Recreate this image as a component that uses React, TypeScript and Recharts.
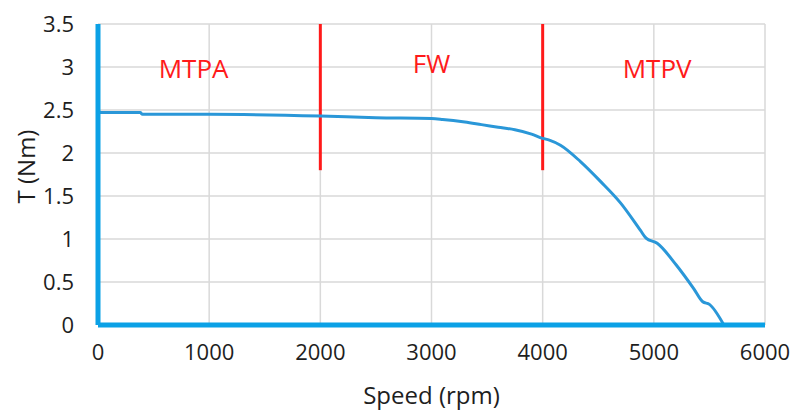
import { LineChart, Line, XAxis, YAxis, CartesianGrid, ReferenceLine, ReferenceDot } from 'recharts';

// speed (rpm) and torque (Nm) sampled along the envelope
const speed = [0, 15, 380, 400, 1000, 2000, 2500, 3000, 3100, 3300, 3450, 3600, 3750, 3900, 4000, 4060, 4160, 4340, 4520, 4700, 4880, 4930, 5030, 5200, 5360, 5440, 5500, 5630];
const torque = [2.52, 2.47, 2.47, 2.45, 2.45, 2.43, 2.41, 2.4, 2.39, 2.36, 2.33, 2.3, 2.27, 2.22, 2.17, 2.15, 2.09, 1.9, 1.67, 1.42, 1.1, 1.01, 0.95, 0.7, 0.42, 0.27, 0.24, 0];

const xTicks = [0, 1000, 2000, 3000, 4000, 5000, 6000];
const yTicks = [0, 0.5, 1, 1.5, 2, 2.5, 3, 3.5];

// region boundaries and labels
const boundaries = [2000, 4000];
const boundaryFrom = 1.8;
const regions = [
  { name: 'MTPA', x: 860, y: 2.98 },
  { name: 'FW', x: 3000, y: 3.04 },
  { name: 'MTPV', x: 5030, y: 2.98 },
];

const data = speed.map((s, i) => ({ speed: s, torque: torque[i] }));

const FONT = '"Open Sans", sans-serif';
const TEXT = '#1e1e1e';
const AXIS_BLUE = '#0ba1e6';
const CURVE_BLUE = '#2a97d8';
const RED = '#ff1a1a';

const YTitle = ({ viewBox }: any) => {
  const cx = viewBox.x - 13;
  const cy = viewBox.y + viewBox.height / 2 - 8;
  return (
    <text
      x={cx}
      y={cy}
      transform={`rotate(-90, ${cx}, ${cy})`}
      textAnchor="middle"
      dominantBaseline="central"
      fill={TEXT}
      fontSize={24}
      fontFamily={FONT}
    >
      T (Nm)
    </text>
  );
};

export default function App() {
  return (
    <div style={{ position: 'absolute', left: 0, top: 0, background: '#fff' }}>
      <LineChart
        width={803}
        height={412}
        data={data}
        margin={{ top: 24, right: 38, left: 38, bottom: 6 }}
      >
        <CartesianGrid stroke="#d9d9d9" strokeWidth={1.5} />
        <XAxis
          type="number"
          dataKey="speed"
          domain={[0, 6000]}
          ticks={xTicks}
          height={81}
          tickLine={false}
          tickSize={0}
          tickMargin={19}
          axisLine={{ stroke: AXIS_BLUE, strokeWidth: 5 }}
          tick={{ fill: TEXT, fontSize: 22, fontFamily: FONT }}
          label={{ value: 'Speed (rpm)', position: 'insideBottom', offset: 2, fill: TEXT, fontSize: 24, fontFamily: FONT }}
        />
        <YAxis
          type="number"
          domain={[0, 3.5]}
          ticks={yTicks}
          width={60}
          tickLine={false}
          tickSize={0}
          tickMargin={24}
          axisLine={{ stroke: AXIS_BLUE, strokeWidth: 5 }}
          tick={{ fill: TEXT, fontSize: 22, fontFamily: FONT }}
          label={{ content: <YTitle /> }}
        />
        {boundaries.map((b) => (
          <ReferenceLine
            key={b}
            segment={[{ x: b, y: boundaryFrom }, { x: b, y: 3.5 }]}
            stroke={RED}
            strokeWidth={3}
          />
        ))}
        {regions.map((r) => (
          <ReferenceDot
            key={r.name}
            x={r.x}
            y={r.y}
            r={0}
            fill="none"
            stroke="none"
            label={{ value: r.name, position: 'center', fill: RED, fontSize: 26, fontFamily: FONT }}
          />
        ))}
        <Line
          type="monotoneX"
          dataKey="torque"
          stroke={CURVE_BLUE}
          strokeWidth={3}
          dot={false}
          isAnimationActive={false}
        />
      </LineChart>
    </div>
  );
}
